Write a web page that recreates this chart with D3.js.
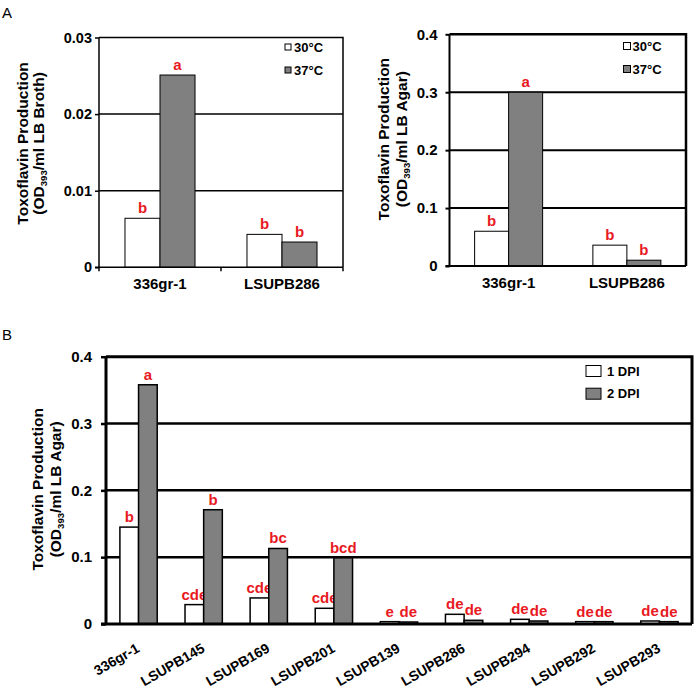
<!DOCTYPE html>
<html><head><meta charset="utf-8">
<script src="https://cdn.jsdelivr.net/npm/d3@7"></script>
<style>
html,body{margin:0;padding:0;background:#fff;}
svg text{font-family:Arial,"Liberation Sans",sans-serif;}
</style></head>
<body>
<svg id="chart" width="697" height="690"></svg>
<script>
// ---------- data ----------
const categoriesA = ["336gr-1", "LSUPB286"];
const seriesA = ["30°C", "37°C"];
const broth30 = [0.0064, 0.0043];
const broth37 = [0.0251, 0.0033];
const brothLetters30 = ["b", "b"];
const brothLetters37 = ["a", "b"];
const agar30 = [0.060, 0.036];
const agar37 = [0.300, 0.010];
const agarLetters30 = ["b", "b"];
const agarLetters37 = ["a", "b"];
const brothTicks = [0, 0.01, 0.02, 0.03];
const brothTickLabels = ["0", "0.01", "0.02", "0.03"];
const agarTicks = [0, 0.1, 0.2, 0.3, 0.4];
const agarTickLabels = ["0", "0.1", "0.2", "0.3", "0.4"];

const categoriesB = ["336gr-1", "LSUPB145", "LSUPB169", "LSUPB201", "LSUPB139", "LSUPB286", "LSUPB294", "LSUPB292", "LSUPB293"];
const seriesB = ["1 DPI", "2 DPI"];
const dpi1 = [0.145, 0.029, 0.039, 0.0235, 0.0035, 0.0145, 0.007, 0.0035, 0.0045];
const dpi2 = [0.358, 0.171, 0.113, 0.099, 0.003, 0.0055, 0.0045, 0.0035, 0.0035];
const letters1 = ["b", "cde", "cde", "cde", "e", "de", "de", "de", "de"];
const letters2 = ["a", "b", "bc", "bcd", "de", "de", "de", "de", "de"];
const ticksB = [0, 0.1, 0.2, 0.3, 0.4];
const tickLabelsB = ["0", "0.1", "0.2", "0.3", "0.4"];

const fills = ["#ffffff", "#808080"];
const RED = "#e8191f";

const svg = d3.select("#chart");

function panel(cfg) {
  const g = svg.append("g");
  const y = d3.scaleLinear().domain(cfg.domain).range([cfg.bottom, cfg.top]);
  const x = d3.scaleBand().domain(cfg.categories).range([cfg.left, cfg.right])
    .paddingInner(cfg.pad).paddingOuter(cfg.pad / 2);
  const xs = d3.scaleBand().domain(cfg.series).range([0, x.bandwidth()]);

  // gridlines (excluding 0 and top)
  g.append("g").selectAll("line").data(cfg.ticks.filter(t => t > 0 && t < cfg.domain[1]))
    .join("line")
    .attr("x1", cfg.left).attr("x2", cfg.right)
    .attr("y1", d => y(d)).attr("y2", d => y(d))
    .attr("stroke", "#000").attr("stroke-width", cfg.gridW);

  // frame top/right
  g.append("path")
    .attr("d", `M${cfg.left},${y(cfg.domain[1])}H${cfg.right}V${cfg.bottom}`)
    .attr("fill", "none").attr("stroke", "#000").attr("stroke-width", cfg.frameW);

  // bars
  cfg.values.forEach((vals, si) => {
    g.append("g").selectAll("rect").data(vals).join("rect")
      .attr("x", (d, i) => x(cfg.categories[i]) + xs(cfg.series[si]))
      .attr("width", xs.bandwidth())
      .attr("y", d => y(d))
      .attr("height", d => cfg.bottom - y(d))
      .attr("fill", fills[si]).attr("stroke", "#000").attr("stroke-width", cfg.barW);
    g.append("g").selectAll("text").data(cfg.letters[si]).join("text")
      .attr("x", (d, i) => x(cfg.categories[i]) + xs(cfg.series[si]) + xs.bandwidth() / 2)
      .attr("y", (d, i) => y(vals[i]) - 5)
      .attr("text-anchor", "middle").attr("fill", RED)
      .attr("font-weight", "bold").attr("font-size", cfg.letterSize)
      .text(d => d);
  });

  // y axis
  const ya = d3.axisLeft(y).tickValues(cfg.ticks).tickFormat((d, i) => cfg.tickLabels[i])
    .tickSize(cfg.tickLen).tickPadding(cfg.tickPad);
  const yg = g.append("g").attr("transform", `translate(${cfg.left},0)`).call(ya);
  yg.select(".domain").attr("stroke-width", cfg.axisW).attr("d", `M0,${cfg.top}V${cfg.bottom}`);
  yg.selectAll(".tick line").attr("stroke-width", cfg.gridW);
  yg.selectAll(".tick text").attr("font-size", cfg.tickSize).attr("font-weight", "bold")
    .attr("font-family", "Arial, 'Liberation Sans', sans-serif").attr("fill", "#000");

  // x axis line
  g.append("line").attr("x1", cfg.left - cfg.tickLen).attr("x2", cfg.right)
    .attr("y1", cfg.bottom).attr("y2", cfg.bottom)
    .attr("stroke", "#000").attr("stroke-width", cfg.axisW);

  // x category separator ticks
  if (cfg.catTicks) {
    const bounds = cfg.categories.map(c => x(c) - x.step() * cfg.pad / 2).concat([cfg.right]);
    g.append("g").selectAll("line").data(bounds).join("line")
      .attr("x1", d => d).attr("x2", d => d)
      .attr("y1", cfg.bottom).attr("y2", cfg.bottom + 4)
      .attr("stroke", "#000").attr("stroke-width", 1.5);
  }

  // x labels
  const xl = g.append("g").selectAll("text").data(cfg.categories).join("text")
    .attr("font-weight", "bold").attr("font-size", cfg.xLabelSize).attr("fill", "#000")
    .text(d => d);
  if (cfg.rotate) {
    xl.attr("text-anchor", "end")
      .attr("transform", d => `translate(${x(d) + x.bandwidth() / 2 + cfg.rotDx},${cfg.bottom + cfg.rotDy}) rotate(-30)`);
  } else {
    xl.attr("text-anchor", "middle")
      .attr("x", d => x(d) + x.bandwidth() / 2).attr("y", cfg.bottom + 22);
  }

  // y title (two lines)
  const cy = (cfg.top + cfg.bottom) / 2 + cfg.titleDy;
  g.append("text").attr("text-anchor", "middle").attr("font-weight", "bold")
    .attr("font-size", cfg.titleSize)
    .attr("transform", `translate(${cfg.titleX1},${cy}) rotate(-90)`)
    .text("Toxoflavin Production");
  const t2 = g.append("text").attr("text-anchor", "middle").attr("font-weight", "bold")
    .attr("font-size", cfg.titleSize)
    .attr("transform", `translate(${cfg.titleX2},${cy}) rotate(-90)`);
  t2.append("tspan").text("(OD");
  t2.append("tspan").attr("font-size", cfg.titleSize * 0.62).attr("dy", 3).text("393");
  t2.append("tspan").attr("dy", -3).text(cfg.titleTail);

  // legend
  cfg.series.forEach((s, si) => {
    const ly = cfg.legY + si * cfg.legGap;
    g.append("rect").attr("x", cfg.legX).attr("y", ly - cfg.legH / 2)
      .attr("width", cfg.legW).attr("height", cfg.legH)
      .attr("fill", fills[si]).attr("stroke", "#000").attr("stroke-width", 1);
    g.append("text").attr("x", cfg.legX + cfg.legW + cfg.legTextGap).attr("y", ly + 4.5)
      .attr("font-weight", "bold").attr("font-size", cfg.legSize).text(s);
  });
}

panel({
  categories: categoriesA, series: seriesA, values: [broth30, broth37],
  letters: [brothLetters30, brothLetters37],
  domain: [0, 0.03], ticks: brothTicks, tickLabels: brothTickLabels,
  left: 99, right: 343, top: 37.5, bottom: 267.3, pad: 0.426,
  gridW: 1.5, frameW: 1.5, axisW: 1.5, barW: 1,
  tickLen: 4, tickPad: 3, tickSize: 14.5, xLabelSize: 15, letterSize: 15,
  titleSize: 15.5, titleX1: 28, titleX2: 44, titleDy: -9, titleTail: "/ml LB Broth)",
  legX: 285, legY: 47, legGap: 23, legW: 6, legH: 6, legTextGap: 3, legSize: 13,
  catTicks: true
});

panel({
  categories: categoriesA, series: seriesA, values: [agar30, agar37],
  letters: [agarLetters30, agarLetters37],
  domain: [0, 0.4], ticks: agarTicks, tickLabels: agarTickLabels,
  left: 449.5, right: 686, top: 34.3, bottom: 266, pad: 0.425,
  gridW: 2, frameW: 2.5, axisW: 2, barW: 1,
  tickLen: 4, tickPad: 8, tickSize: 15, xLabelSize: 15, letterSize: 15,
  titleSize: 15.5, titleX1: 389, titleX2: 407, titleDy: -11, titleTail: "/ml LB Agar)",
  legX: 623.5, legY: 46, legGap: 23, legW: 7, legH: 7, legTextGap: 2, legSize: 13,
  catTicks: false
});

panel({
  categories: categoriesB, series: seriesB, values: [dpi1, dpi2],
  letters: [letters1, letters2],
  domain: [0, 0.4], ticks: ticksB, tickLabels: tickLabelsB,
  left: 106, right: 692, top: 356.7, bottom: 624, pad: 0.427,
  gridW: 2.5, frameW: 3, axisW: 3, barW: 1.5,
  tickLen: 5, tickPad: 9, tickSize: 15, xLabelSize: 14, letterSize: 15,
  titleSize: 15.5, titleX1: 43, titleX2: 61, titleDy: -1, titleTail: "/ml LB Agar)",
  legX: 586, legY: 371, legGap: 22.7, legW: 15, legH: 11, legTextGap: 6, legSize: 13,
  catTicks: false, rotate: true, rotDx: 2, rotDy: 27
});

// panel letters
svg.append("text").attr("x", 2).attr("y", 18).attr("font-size", 15).text("A");
svg.append("text").attr("x", 2).attr("y", 340).attr("font-size", 15).text("B");
</script>
</body></html>
